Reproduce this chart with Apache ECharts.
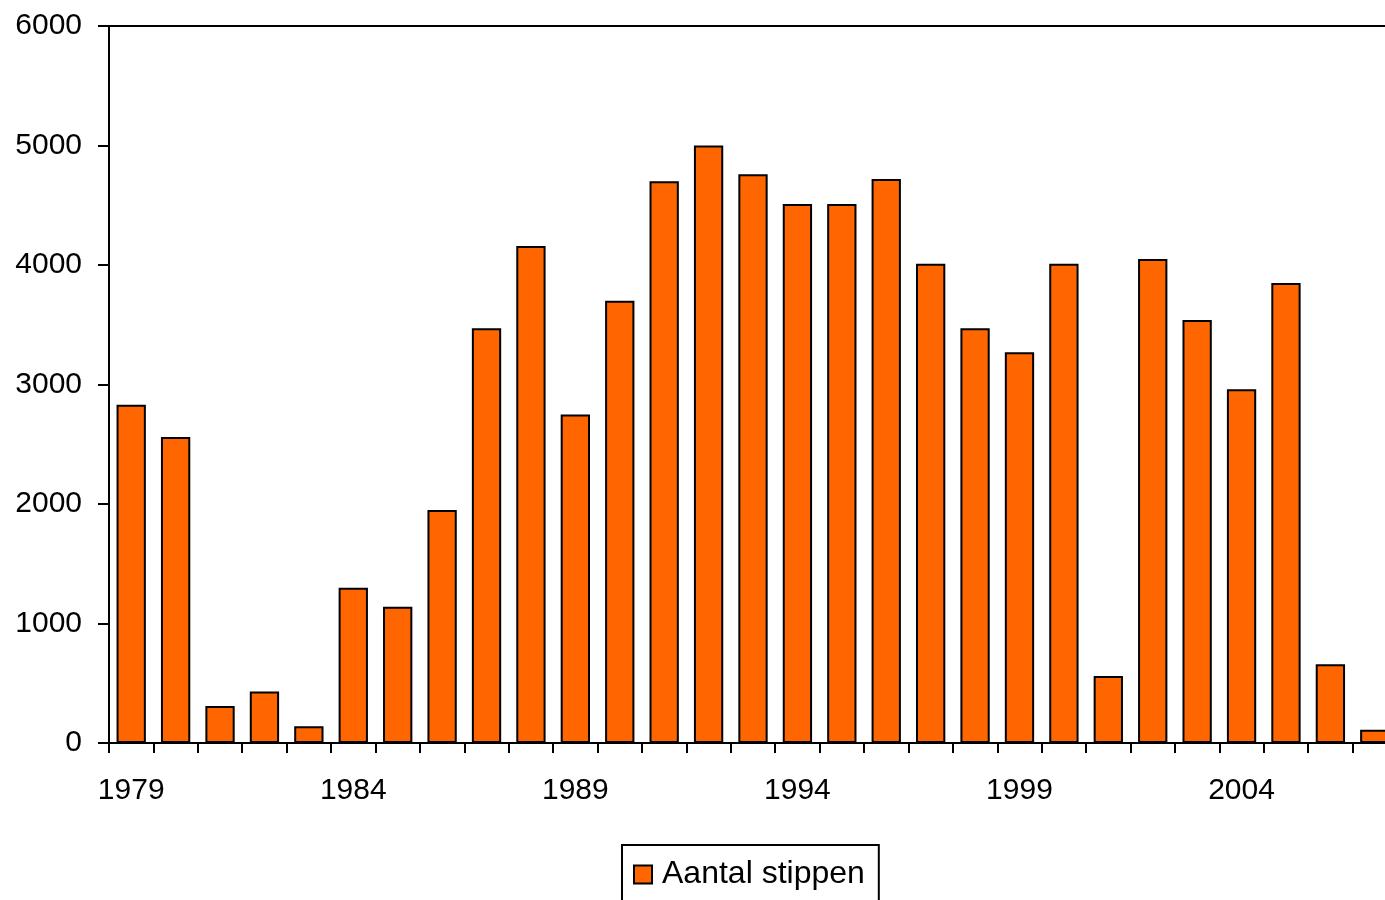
<!DOCTYPE html>
<html>
<head>
<meta charset="utf-8">
<script src="https://cdn.jsdelivr.net/npm/echarts@6/dist/echarts.min.js"></script>
<style>
html,body{margin:0;padding:0;background:#fff;}
#c{width:1385px;height:900px;}
</style>
</head>
<body>
<div id="c"></div>
<script>
var years = ['1979','1980','1981','1982','1983','1984','1985','1986','1987','1988','1989','1990','1991','1992','1993','1994','1995','1996','1997','1998','1999','2000','2001','2002','2003','2004','2005','2006','2007'];
var aantalStippen = [2830,2560,310,430,140,1300,1140,1950,3470,4160,2750,3700,4700,5000,4760,4510,4510,4720,4010,3470,3270,4010,560,4050,3540,2960,3850,660,110];
var seriesName = 'Aantal stippen';

var chart = echarts.init(document.getElementById('c'), null, {renderer:'canvas'});
var FONT = '"Liberation Sans", Arial, sans-serif';
chart.setOption({
  animation: false,
  backgroundColor: '#ffffff',
  grid: {
    left: 109, top: 26, right: -12, bottom: 157,
    show: true, borderColor: '#000', borderWidth: 2, backgroundColor: 'transparent',
    containLabel: false,
    outerBoundsMode: 'none'
  },
  legend: {
    data: [seriesName],
    left: 622, top: 845,
    orient: 'horizontal',
    icon: 'rect',
    itemWidth: 18, itemHeight: 18,
    borderColor: '#000', borderWidth: 2,
    padding: [13, 14, 40, 11],
    textStyle: { fontFamily: FONT, fontSize: 32, color: '#000', lineHeight: 33, padding: [0,0,0,5] }
  },
  xAxis: {
    type: 'category',
    data: years,
    boundaryGap: true,
    axisLine: { show: true, lineStyle: { color: '#000', width: 2 } },
    axisTick: { show: true, interval: 0, length: 10, lineStyle: { color: '#000', width: 2 } },
    axisLabel: { interval: 4, margin: 33, fontFamily: FONT, fontSize: 30, color: '#000' },
    splitLine: { show: false }
  },
  yAxis: {
    type: 'value',
    min: 0, max: 6000, interval: 1000,
    axisLine: { show: true, lineStyle: { color: '#000', width: 2 } },
    axisTick: { show: true, length: 11, lineStyle: { color: '#000', width: 2 } },
    axisLabel: { margin: 27, fontFamily: FONT, fontSize: 30, color: '#000', formatter: function (v) { return String(v); } },
    splitLine: { show: false }
  },
  series: [{
    name: seriesName,
    type: 'bar',
    data: aantalStippen,
    barWidth: '66%',
    itemStyle: { color: '#ff6600', borderColor: '#000', borderWidth: 2 }
  }]
});
</script>
</body>
</html>
